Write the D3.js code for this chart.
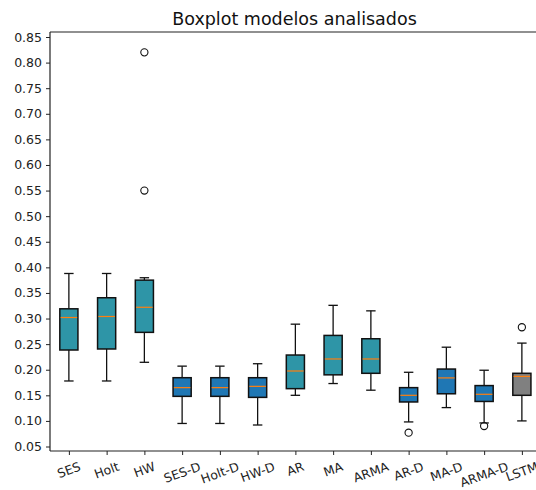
<!DOCTYPE html>
<html><head><meta charset="utf-8">
<script src="https://cdn.jsdelivr.net/npm/d3@7"></script>
<style>body{margin:0;background:#fff}svg{display:block}text{font-family:"DejaVu Sans",sans-serif}</style>
</head><body><div id="chart"></div>
<script>
const categories = ["SES","Holt","HW","SES-D","Holt-D","HW-D","AR","MA","ARMA","AR-D","MA-D","ARMA-D","LSTM"];
const whiskerLow  = [0.178,0.178,0.2145,0.095,0.095,0.092,0.150,0.173,0.160,0.098,0.126,0.096,0.100];
const q1          = [0.2385,0.2405,0.273,0.148,0.148,0.146,0.163,0.190,0.193,0.137,0.153,0.138,0.150];
const medians     = [0.302,0.304,0.322,0.165,0.165,0.1675,0.1975,0.221,0.221,0.150,0.184,0.152,0.187];
const q3          = [0.319,0.3406,0.375,0.1844,0.1844,0.1844,0.2287,0.267,0.2605,0.165,0.2013,0.169,0.193];
const whiskerHigh = [0.388,0.388,0.3797,0.207,0.207,0.2117,0.289,0.3258,0.315,0.195,0.244,0.199,0.252];
const outliers    = [[],[],[0.55,0.82],[],[],[],[],[],[],[0.077],[],[0.090],[0.283]];
const groups      = ["stat","stat","stat","diff","diff","diff","stat","stat","stat","diff","diff","diff","nn"];
const yTicks = [0.05,0.10,0.15,0.20,0.25,0.30,0.35,0.40,0.45,0.50,0.55,0.60,0.65,0.70,0.75,0.80,0.85];
const title = "Boxplot modelos analisados";

(function(){
const colors = {stat:"#2e95a7", diff:"#1f77b4", nn:"#808080"};
const W = 536, H = 490;
const mLeft = 50, mTop = 32, mBottom = 451;
const step = 37.75;
const mRight = mLeft + step*13;

const svg = d3.select("#chart").append("svg").attr("width",W).attr("height",H);

const x = d3.scaleLinear().domain([0.5,13.5]).range([mLeft,mRight]);
const y = d3.scaleLinear().domain([0.05,0.85]).range([446.5,37]);

const g = svg.append("g");

const bw = step*0.48, cw = step*0.25;
categories.forEach((c,i)=>{
  const cx = x(i+1);
  const s = g.append("g");
  s.append("line").attr("x1",cx).attr("x2",cx).attr("y1",y(q3[i])).attr("y2",y(whiskerHigh[i])).attr("stroke","#111").attr("stroke-width",1.3);
  s.append("line").attr("x1",cx).attr("x2",cx).attr("y1",y(q1[i])).attr("y2",y(whiskerLow[i])).attr("stroke","#111").attr("stroke-width",1.3);
  s.append("line").attr("x1",cx-cw/2).attr("x2",cx+cw/2).attr("y1",y(whiskerHigh[i])).attr("y2",y(whiskerHigh[i])).attr("stroke","#111").attr("stroke-width",1.3);
  s.append("line").attr("x1",cx-cw/2).attr("x2",cx+cw/2).attr("y1",y(whiskerLow[i])).attr("y2",y(whiskerLow[i])).attr("stroke","#111").attr("stroke-width",1.3);
  s.append("rect").attr("x",cx-bw/2).attr("width",bw).attr("y",y(q3[i])).attr("height",y(q1[i])-y(q3[i]))
    .attr("fill",colors[groups[i]]).attr("stroke","#111").attr("stroke-width",1.5);
  s.append("line").attr("x1",cx-bw/2+0.8).attr("x2",cx+bw/2-0.8).attr("y1",y(medians[i])).attr("y2",y(medians[i])).attr("stroke","#ff7f0e").attr("stroke-width",1.2);
  outliers[i].forEach(o=>{
    s.append("circle").attr("cx",cx).attr("cy",y(o)).attr("r",3.6).attr("fill","none").attr("stroke","#111").attr("stroke-width",1.1);
  });
});

g.append("line").attr("x1",mLeft).attr("x2",mLeft).attr("y1",mTop).attr("y2",mBottom).attr("stroke","#222").attr("stroke-width",1.2);
g.append("line").attr("x1",mLeft).attr("x2",mRight).attr("y1",mBottom).attr("y2",mBottom).attr("stroke","#222").attr("stroke-width",1.2);
g.append("line").attr("x1",mLeft).attr("x2",mRight).attr("y1",mTop).attr("y2",mTop).attr("stroke","#222").attr("stroke-width",1.2);

const yAxis = d3.axisLeft(y).tickValues(yTicks).tickFormat(d3.format(".2f")).tickSize(4).tickPadding(4);
const ya = svg.append("g").attr("transform",`translate(${mLeft},0)`).call(yAxis);
ya.select(".domain").remove();
ya.selectAll("text").attr("font-size",12.5).attr("fill","#222").attr("font-family","DejaVu Sans");
ya.selectAll("line").attr("stroke","#222");

const xAxis = d3.axisBottom(x).tickValues(d3.range(1,14)).tickFormat(()=>"").tickSize(4);
const xa = svg.append("g").attr("transform",`translate(0,${mBottom})`).call(xAxis);
xa.select(".domain").remove();
xa.selectAll("line").attr("stroke","#222");

const ang = 20*Math.PI/180;
const fs = 12.5;
categories.forEach((c,i)=>{
  const t = svg.append("text").text(c).attr("font-size",fs).attr("fill","#222")
    .attr("text-anchor","middle").attr("dominant-baseline","central");
  const w = t.node().getComputedTextLength();
  const h = fs*1.0;
  const bh = w*Math.sin(ang) + h*Math.cos(ang);
  const cy = mBottom + 9 + bh/2;
  t.attr("transform",`translate(${x(i+1)},${cy}) rotate(-20)`);
});

svg.append("text").attr("x",294.5).attr("y",25).attr("text-anchor","middle").attr("font-size",17.5).attr("fill","#111").text(title);
})();
</script></body></html>
